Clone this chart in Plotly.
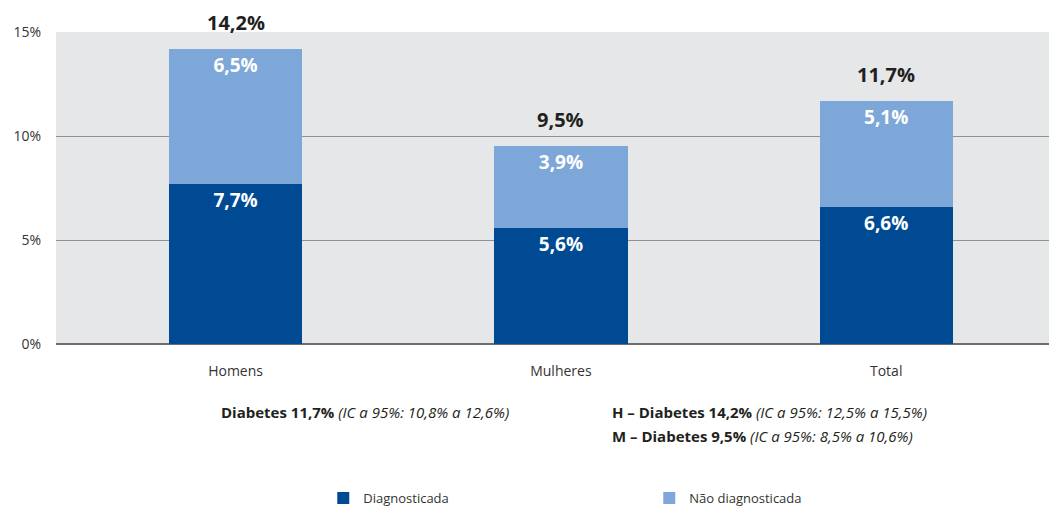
import plotly.graph_objects as go

categories = ["Homens", "Mulheres", "Total"]
diagnosticada = [7.7, 5.6, 6.6]
nao_diagnosticada = [6.5, 3.9, 5.1]
totais = [14.2, 9.5, 11.7]
y_ticks = [0, 5, 10, 15]
y_tick_labels = ["0%", "5%", "10%", "15%"]


def fmt(v):
    return f"{v:.1f}".replace(".", ",") + "%"


DARK = "#004a93"
LIGHT = "#7da7d9"
FONT = "Open Sans"

fig = go.Figure()
fig.add_trace(go.Bar(
    x=categories, y=diagnosticada, name="Diagnosticada",
    marker=dict(color=DARK, line=dict(width=0)),
    text=[fmt(v) for v in diagnosticada], textposition="inside",
    insidetextanchor="end", textangle=0, constraintext="none",
    textfont=dict(family=FONT, size=19, color="white", weight="bold"),
    width=0.41,
))
fig.add_trace(go.Bar(
    x=categories, y=nao_diagnosticada, name="Não diagnosticada",
    marker=dict(color=LIGHT, line=dict(width=0)),
    text=[fmt(v) for v in nao_diagnosticada], textposition="inside",
    insidetextanchor="end", textangle=0, constraintext="none",
    textfont=dict(family=FONT, size=19, color="white", weight="bold"),
    width=0.41,
))

for c, t in zip(categories, totais):
    fig.add_annotation(
        x=c, y=t, text=f"<b>{fmt(t)}</b>", showarrow=False,
        yanchor="bottom", yshift=12, borderpad=0,
        font=dict(family=FONT, size=20, color="#231f20"),
    )

note_font = dict(family=FONT, size=15, color="#231f20")
fig.add_annotation(
    xref="paper", yref="paper", x=0.1628, y=-0.218, xanchor="left", yanchor="middle",
    text="<b>Diabetes 11,7%</b> <i>(IC a 95%: 10,8% a 12,6%)</i>",
    showarrow=False, font=note_font,
)
fig.add_annotation(
    xref="paper", yref="paper", x=0.5534, y=-0.218, xanchor="left", yanchor="middle",
    text="<b>H – Diabetes 14,2%</b> <i>(IC a 95%: 12,5% a 15,5%)</i>",
    showarrow=False, font=note_font,
)
fig.add_annotation(
    xref="paper", yref="paper", x=0.5534, y=-0.295, xanchor="left", yanchor="middle",
    text="<b>M – Diabetes 9,5%</b> <i>(IC a 95%: 8,5% a 10,6%)</i>",
    showarrow=False, font=note_font,
)

# page body adds an 8px offset; figure is sized/margined to compensate
fig.update_layout(
    width=1049, height=499,
    barmode="stack",
    paper_bgcolor="white",
    plot_bgcolor="#e6e7e8",
    margin=dict(l=48, r=0, t=24, b=163, autoexpand=False),
    font=dict(family=FONT, size=14, color="#333333"),
    showlegend=True,
    legend=dict(
        orientation="h", traceorder="normal",
        x=0.267, y=-0.494, xanchor="left", yanchor="middle",
        entrywidth=281, entrywidthmode="pixels",
        font=dict(family=FONT, size=13, color="#333333"),
        bgcolor="rgba(0,0,0,0)",
    ),
    xaxis=dict(
        type="category", range=[-0.552, 2.525], showgrid=False,
        ticks="", ticklabelstandoff=17, showline=False,
        tickfont=dict(family=FONT, size=14, color="#333333"),
    ),
    yaxis=dict(
        range=[0, 15], tickvals=y_ticks, ticktext=y_tick_labels,
        showgrid=True, gridcolor="#8f9194", gridwidth=1,
        zeroline=True, zerolinecolor="#6d6e71", zerolinewidth=1.5,
        ticks="", ticklabelstandoff=14, showline=False,
        tickfont=dict(family=FONT, size=14, color="#333333"),
    ),
)

fig.write_html("out.html")
